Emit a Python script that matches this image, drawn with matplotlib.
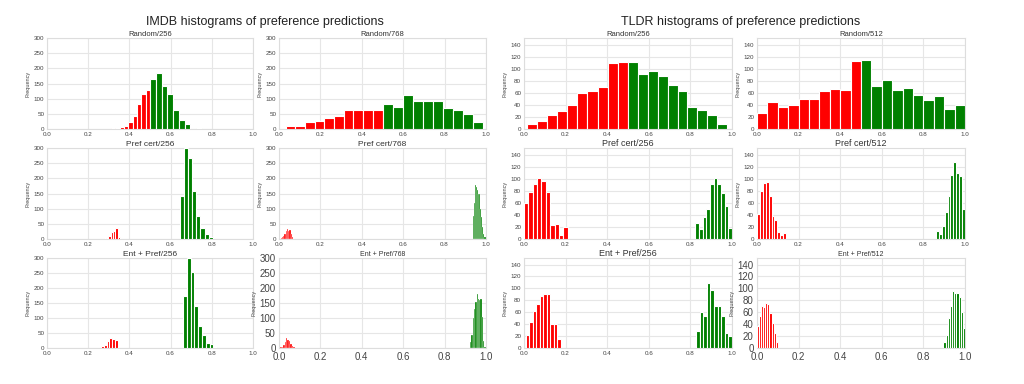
import numpy as np
import matplotlib
matplotlib.use("Agg")
import matplotlib.pyplot as plt

plt.rcParams['font.family'] = ['Liberation Sans', 'DejaVu Sans']

# ---------------- data (bin ranges + counts) ----------------
titles_imdb = ["Random/256", "Random/768", "Pref cert/256", "Pref cert/768", "Ent + Pref/256", "Ent + Pref/768"]
titles_tldr = ["Random/256", "Random/512", "Pref cert/256", "Pref cert/512", "Ent + Pref/256", "Ent + Pref/512"]

# IMDB Random/256
imdb_r256_red_range = [0.31, 0.50]
imdb_r256_red = [3, 4, 6, 10, 22, 43, 84, 117, 128]
imdb_r256_green_range = [0.50, 0.78]
imdb_r256_green = [165, 184, 141, 117, 62, 31, 17, 0, 2, 1]

# IMDB Random/768
imdb_r768_red_range = [0.032, 0.50]
imdb_r768_red = [10, 10, 23, 27, 35, 42, 62, 62, 63, 64]
imdb_r768_green_range = [0.50, 0.985]
imdb_r768_green = [83, 71, 111, 91, 91, 91, 70, 62, 51, 24]

# IMDB Pref cert/256
imdb_p256_red_range = [0.24, 0.355]
imdb_p256_red = [1, 1, 1, 3, 4, 10, 22, 27, 35, 8]
imdb_p256_green_range = [0.645, 0.825]
imdb_p256_green = [142, 299, 268, 158, 75, 37, 16, 6, 1]

# IMDB Pref cert/768
imdb_p768_red_range = [0.008, 0.068]
imdb_p768_red = [3, 6, 10, 18, 25, 33, 27, 30, 15, 5]
imdb_p768_green_range = [0.935, 0.998]
imdb_p768_green = [75, 120, 178, 170, 162, 150, 147, 100, 73, 40, 18, 5]

# IMDB Ent + Pref/256
imdb_e256_red_range = [0.262, 0.343]
imdb_e256_red = [7, 10, 25, 34, 30, 28]
imdb_e256_green_range = [0.661, 0.826]
imdb_e256_green = [172, 299, 253, 141, 74, 42, 17, 15, 2]

# IMDB Ent + Pref/768
imdb_e768_red_range = [0.006, 0.076]
imdb_e768_red = [2, 5, 10, 20, 33, 27, 22, 15, 8, 4]
imdb_e768_green_range = [0.923, 0.998]
imdb_e768_green = [20, 45, 100, 130, 155, 180, 162, 160, 162, 105, 25, 5]

# TLDR Random/256
tldr_r256_red_range = [0.013, 0.50]
tldr_r256_red = [9, 13, 24, 30, 40, 60, 63, 69, 110, 111]
tldr_r256_green_range = [0.50, 0.976]
tldr_r256_green = [111, 91, 97, 88, 73, 63, 37, 31, 23, 8]

# TLDR Random/512
tldr_r512_red_range = [0.0, 0.50]
tldr_r512_red = [27, 44, 36, 39, 50, 49, 63, 66, 65, 113]
tldr_r512_green_range = [0.50, 1.0]
tldr_r512_green = [115, 71, 82, 64, 68, 56, 48, 54, 33, 39]

# TLDR Pref cert/256
tldr_p256_red_range = [0.0, 0.21]
tldr_p256_red = [60, 78, 91, 101, 97, 78, 23, 25, 6, 20]
tldr_p256_green_range = [0.823, 1.0]
tldr_p256_green = [26, 17, 37, 50, 92, 101, 91, 77, 54, 18]

# TLDR Pref cert/512
tldr_p512_red_range = [0.0, 0.14]
tldr_p512_red = [42, 79, 93, 95, 72, 38, 32, 11, 6, 10]
tldr_p512_green_range = [0.86, 1.0]
tldr_p512_green = [14, 9, 22, 45, 72, 107, 127, 109, 104, 49]

# TLDR Ent + Pref/256
tldr_e256_red_range = [0.008, 0.177]
tldr_e256_red = [21, 44, 62, 73, 88, 90, 91, 41, 40, 15]
tldr_e256_green_range = [0.827, 1.0]
tldr_e256_green = [28, 61, 53, 109, 97, 70, 70, 54, 25, 20]

# TLDR Ent + Pref/512
tldr_e512_red_range = [0.0, 0.10]
tldr_e512_red = [37, 54, 71, 68, 76, 74, 59, 42, 25, 10]
tldr_e512_green_range = [0.896, 1.0]
tldr_e512_green = [10, 22, 50, 70, 96, 92, 92, 85, 60, 33]

imdb_panels = [
    (imdb_r256_red_range, imdb_r256_red, imdb_r256_green_range, imdb_r256_green),
    (imdb_r768_red_range, imdb_r768_red, imdb_r768_green_range, imdb_r768_green),
    (imdb_p256_red_range, imdb_p256_red, imdb_p256_green_range, imdb_p256_green),
    (imdb_p768_red_range, imdb_p768_red, imdb_p768_green_range, imdb_p768_green),
    (imdb_e256_red_range, imdb_e256_red, imdb_e256_green_range, imdb_e256_green),
    (imdb_e768_red_range, imdb_e768_red, imdb_e768_green_range, imdb_e768_green),
]
tldr_panels = [
    (tldr_r256_red_range, tldr_r256_red, tldr_r256_green_range, tldr_r256_green),
    (tldr_r512_red_range, tldr_r512_red, tldr_r512_green_range, tldr_r512_green),
    (tldr_p256_red_range, tldr_p256_red, tldr_p256_green_range, tldr_p256_green),
    (tldr_p512_red_range, tldr_p512_red, tldr_p512_green_range, tldr_p512_green),
    (tldr_e256_red_range, tldr_e256_red, tldr_e256_green_range, tldr_e256_green),
    (tldr_e512_red_range, tldr_e512_red, tldr_e512_green_range, tldr_e512_green),
]

# ---------------- layout ----------------
W, H = 1024, 384
fig = plt.figure(figsize=(W / 100, H / 100), dpi=100)
fig.patch.set_facecolor('white')

col_px = [(47, 253), (279, 486), (524, 732), (757, 965)]
row_px = [(38, 129), (148, 239), (258, 348)]

def make_ax(col, row):
    x0, x1 = col_px[col]
    y0, y1 = row_px[row]
    return fig.add_axes([x0 / W, 1 - y1 / H, (x1 - x0) / W, (y1 - y0) / H])

def draw(ax, panel, title, ymax, yticks, big=False, title_fs=5.5):
    rr, rc, gr, gc = panel
    thin = (rr[1] - rr[0]) / len(rc) < 0.008
    lw = 0.2 if thin else 0.8
    re = np.linspace(rr[0], rr[1], len(rc) + 1)
    ge = np.linspace(gr[0], gr[1], len(gc) + 1)
    ax.hist(re[:-1], bins=re, weights=rc, color='#ff0000', edgecolor='white', linewidth=lw, zorder=3)
    ax.hist(ge[:-1], bins=ge, weights=gc, color='#008000', edgecolor='white', linewidth=lw, zorder=3)
    ax.set_xlim(0, 1)
    ax.set_ylim(0, ymax)
    ax.set_yticks(yticks)
    ax.set_xticks([0.0, 0.2, 0.4, 0.6, 0.8, 1.0])
    ax.set_facecolor('white')
    ax.grid(True, color='#e6e6e6', linewidth=0.8, zorder=0)
    ax.set_axisbelow(True)
    for s in ax.spines.values():
        s.set_color('#dddddd')
        s.set_linewidth(0.8)
    fs = 7 if big else 4.5
    ax.tick_params(axis='both', length=0, labelsize=fs, colors='#444444', pad=2)
    if big:
        ax.tick_params(axis='x', pad=3)
        ax.tick_params(axis='y', pad=2.5)
    ax.set_ylabel('Frequency', fontsize=4, color='#444444', labelpad=2)
    ax.set_title(title, fontsize=title_fs, color='#333333', pad=1.5)

imdb_yt = [0, 50, 100, 150, 200, 250, 300]
tldr_yt = [0, 20, 40, 60, 80, 100, 120, 140]

for i, panel in enumerate(imdb_panels):
    row, col = divmod(i, 2)
    ax = make_ax(col, row)
    big = (i == 5)
    draw(ax, panel, titles_imdb[i], 300, imdb_yt, big=big,
         title_fs=5.0 if big else (5.5 if row == 0 else 6.0))

for i, panel in enumerate(tldr_panels):
    row, col = divmod(i, 2)
    ax = make_ax(col + 2, row)
    big = (i == 5)
    draw(ax, panel, titles_tldr[i], 151, tldr_yt, big=big,
         title_fs=5.0 if big else (5.5 if row == 0 else 6.5))

fig.text(265 / W, 1 - 22 / H, 'IMDB histograms of preference predictions', ha='center', va='center', fontsize=9, color='#222222')
fig.text(741 / W, 1 - 22 / H, 'TLDR histograms of preference predictions', ha='center', va='center', fontsize=9, color='#222222')

fig.savefig('out.png', dpi=100, facecolor='white')
